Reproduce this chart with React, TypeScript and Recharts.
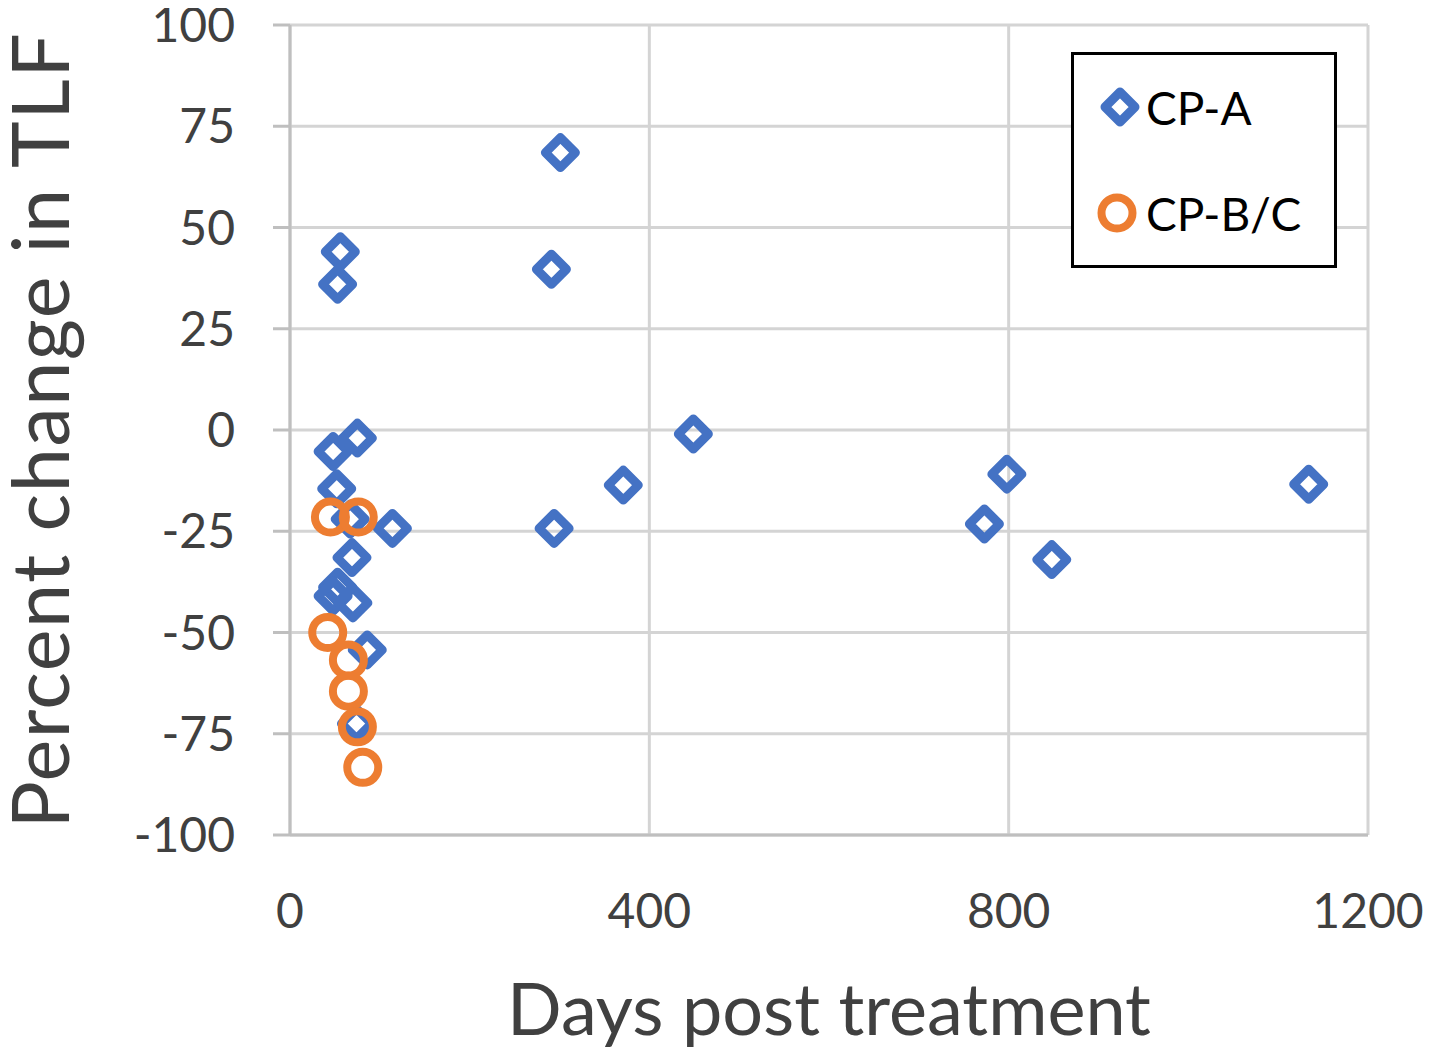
import React from 'react';
import {
  ScatterChart,
  Scatter,
  XAxis,
  YAxis,
  CartesianGrid,
  Legend,
  Label,
} from 'recharts';

// Days after treatment and percent change in TLF, per patient group
const cpADays = [56, 53, 301, 291, 48, 75, 449, 52, 371, 798, 1134, 773, 848, 294, 114, 67, 69, 53, 48, 70, 86, 74];
const cpAChange = [44, 36, 68.5, 39.7, -5.3, -2, -1, -14.5, -13.6, -10.9, -13.4, -23.2, -32, -24.3, -24.3, -22, -31.5, -38.8, -41, -42.7, -54.3, -72.5];

const cpBCDays = [45, 76, 42, 65, 65, 75, 81];
const cpBCChange = [-21.5, -21.5, -50, -56.8, -64.5, -73.3, -83.3];

const xTicks = [0, 400, 800, 1200];
const yTicks = [-100, -75, -50, -25, 0, 25, 50, 75, 100];

const seriesNames = ['CP-A', 'CP-B/C'];

const BLUE = '#4472C4';
const ORANGE = '#ED7D31';
const GRID = '#d4d4d4';
const FONT = 'Lato, "Open Sans", sans-serif';

const cpAData = cpADays.map((d, i) => ({ days: d, change: cpAChange[i] }));
const cpBCData = cpBCDays.map((d, i) => ({ days: d, change: cpBCChange[i] }));

const DiamondMark = (props: any) => {
  const { cx, cy } = props;
  const r = 15;
  return (
    <path
      d={`M${cx},${cy - r}L${cx + r},${cy}L${cx},${cy + r}L${cx - r},${cy}Z`}
      fill="none"
      stroke={BLUE}
      strokeWidth={9}
      strokeLinejoin="round"
    />
  );
};

const CircleMark = (props: any) => {
  const { cx, cy } = props;
  return <circle cx={cx} cy={cy} r={15.5} fill="none" stroke={ORANGE} strokeWidth={8} />;
};

const LegendBox = () => (
  <div
    style={{
      width: 266,
      height: 216,
      boxSizing: 'border-box',
      border: '3.5px solid #000',
      background: '#fff',
      position: 'relative',
      fontFamily: FONT,
      fontSize: 46,
      color: '#000',
    }}
  >
    {seriesNames.map((name, i) => (
      <div
        key={name}
        style={{
          position: 'absolute',
          left: 21,
          top: i === 0 ? 27 : 133,
          height: 50,
          display: 'flex',
          alignItems: 'center',
          whiteSpace: 'nowrap',
        }}
      >
        <svg width={50} height={50} style={{ marginRight: 1 }}>
          {i === 0 ? (
            <path d="M25,10L40,25L25,40L10,25Z" fill="none" stroke={BLUE} strokeWidth={9} strokeLinejoin="round" />
          ) : (
            <circle cx={22} cy={25} r={15.5} fill="none" stroke={ORANGE} strokeWidth={8} />
          )}
        </svg>
        <span>{name}</span>
      </div>
    ))}
  </div>
);

export default function App() {
  return (
    <div style={{ width: 1432, height: 1057, margin: '-8px 0 0 -8px', background: '#fff' }}>
      <ScatterChart
        width={1432}
        height={1057}
        margin={{ top: 25, right: 64, bottom: 72, left: 0 }}
      >
        <CartesianGrid stroke={GRID} strokeWidth={3} />
        <XAxis
          type="number"
          dataKey="days"
          domain={[0, 1200]}
          ticks={xTicks}
          interval={0}
          height={150}
          axisLine={{ stroke: '#bfbfbf', strokeWidth: 3 }}
          tickLine={false}
          tickSize={0}
          tickMargin={59}
          tick={{ fill: '#404040', fontSize: 48, fontFamily: FONT }}
        >
          <Label
            content={(p: any) => {
              const vb = p.viewBox;
              return (
                <text
                  x={vb.x + vb.width / 2}
                  y={1035}
                  textAnchor="middle"
                  fill="#404040"
                  fontSize={72}
                  fontFamily={FONT}
                >
                  Days post treatment
                </text>
              );
            }}
          />
        </XAxis>
        <YAxis
          type="number"
          dataKey="change"
          domain={[-100, 100]}
          ticks={yTicks}
          interval={0}
          width={290}
          axisLine={{ stroke: '#bfbfbf', strokeWidth: 3 }}
          tickLine={{ stroke: '#bfbfbf', strokeWidth: 3 }}
          tickSize={17}
          tickMargin={38}
          tick={{ fill: '#404040', fontSize: 48, fontFamily: FONT }}
        >
          <Label
            content={(p: any) => {
              const vb = p.viewBox;
              const cy = vb.y + vb.height / 2;
              return (
                <text
                  x={69}
                  y={cy}
                  transform={`rotate(-90, 69, ${cy})`}
                  textAnchor="middle"
                  fill="#404040"
                  fontSize={79}
                  letterSpacing={1.5}
                  fontFamily={FONT}
                >
                  Percent change in TLF
                </text>
              );
            }}
          />
        </YAxis>
        <Legend
          layout="horizontal"
          verticalAlign="middle"
          align="center"
          wrapperStyle={{ left: 1071, top: 52, width: 266, height: 216 }}
          content={() => <LegendBox />}
        />
        <Scatter
          name={seriesNames[0]}
          data={cpAData}
          shape={DiamondMark}
          isAnimationActive={false}
        />
        <Scatter
          name={seriesNames[1]}
          data={cpBCData}
          shape={CircleMark}
          isAnimationActive={false}
        />
      </ScatterChart>
    </div>
  );
}
